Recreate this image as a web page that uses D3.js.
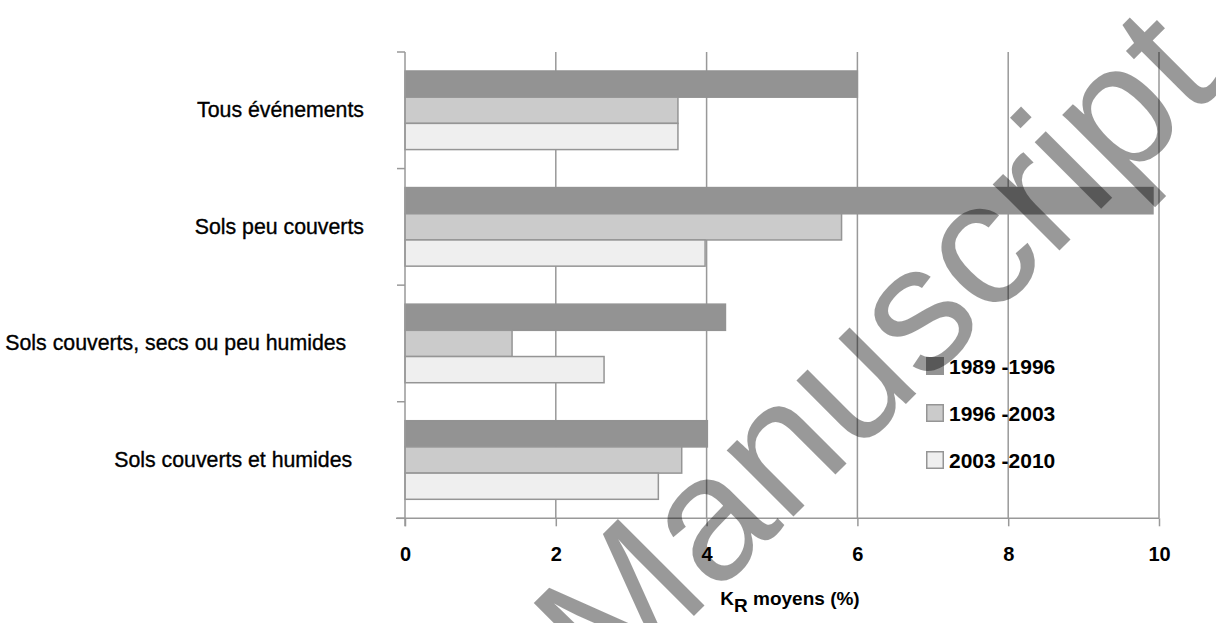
<!DOCTYPE html>
<html>
<head>
<meta charset="utf-8">
<script src="https://cdn.jsdelivr.net/npm/d3@7"></script>
<style>
  body { margin: 0; background: #fff; }
  svg text { font-family: "Liberation Sans", Arial, sans-serif; fill: #000; white-space: pre; }
</style>
</head>
<body>
<svg id="chart" width="1216" height="623"></svg>
<script>
// ---- data ----
const categories = [
  "Tous événements",
  "Sols peu couverts",
  "Sols couverts, secs ou peu humides   ",
  "Sols couverts et humides  "
];
const seriesNames = ["1989 -1996", "1996 -2003", "2003 -2010"];
const values1989_1996 = [6.0, 9.92, 4.25, 4.01];
const values1996_2003 = [3.62, 5.79, 1.42, 3.67];
const values2003_2010 = [3.62, 3.98, 2.64, 3.36];
const xTickValues = [0, 2, 4, 6, 8, 10];
const xTitleMain = "K";
const xTitleSub = "R";
const xTitleRest = " moyens (%)";
const watermarkText = "Manuscript";

// ---- styles ----
const fills = ["#939393", "#cbcbcb", "#efefef"];
const strokes = ["#939393", "#959595", "#959595"];
const gridColor = "#999999";

const seriesValues = [values1989_1996, values1996_2003, values2003_2010];
const rows = categories.map((c, i) => ({
  cat: c,
  vals: seriesNames.map((s, j) => ({ series: s, idx: j, value: seriesValues[j][i] }))
}));

const svg = d3.select("#chart");
const pLeft = 405, pRight = 1159, pTop = 52, pBottom = 518.3;

const x = d3.scaleLinear().domain([0, 10]).range([pLeft, pRight]);
const y = d3.scaleBand().domain(categories).range([pTop, pBottom]).padding(0);
const ys = d3.scaleBand().domain(seriesNames).range([0, y.bandwidth()])
  .paddingInner(0).paddingOuter(0.725);

// gridlines
svg.append("g").selectAll("line")
  .data(xTickValues.filter(d => d > 0))
  .join("line")
  .attr("x1", d => x(d)).attr("x2", d => x(d))
  .attr("y1", pTop).attr("y2", pBottom)
  .attr("stroke", gridColor).attr("stroke-width", 1.5);

// bars
const groups = svg.append("g").selectAll("g")
  .data(rows).join("g")
  .attr("transform", d => `translate(0,${y(d.cat)})`);
groups.selectAll("rect")
  .data(d => d.vals).join("rect")
  .attr("x", x(0))
  .attr("y", d => ys(d.series))
  .attr("width", d => x(d.value) - x(0))
  .attr("height", ys.bandwidth())
  .attr("fill", d => fills[d.idx])
  .attr("stroke", d => strokes[d.idx])
  .attr("stroke-width", 1.5);

// bottom axis
const xAxis = d3.axisBottom(x).tickValues(xTickValues).tickSize(8).tickPadding(21)
  .tickFormat(d3.format("d"));
const gx = svg.append("g").attr("transform", `translate(0,${pBottom})`).call(xAxis);
gx.select(".domain").remove();
gx.append("line").attr("x1", pLeft - 9).attr("x2", pRight).attr("y1", 0).attr("y2", 0)
  .attr("stroke", gridColor).attr("stroke-width", 1.5);
gx.selectAll(".tick line").attr("stroke", gridColor).attr("stroke-width", 1.5);
gx.selectAll(".tick text").attr("font-size", 20).attr("font-weight", "bold")
  .style("font-family", "'Liberation Sans', Arial, sans-serif").attr("fill", "#000");

// left axis
const yAxis = d3.axisLeft(y).tickSize(0).tickPadding(41);
const gy = svg.append("g").attr("transform", `translate(${pLeft},0)`).call(yAxis);
gy.select(".domain").remove();
gy.selectAll(".tick text").attr("font-size", 21.3)
  .style("font-family", "'Liberation Sans', Arial, sans-serif").attr("fill", "#000")
  .attr("stroke", "#000").attr("stroke-width", 0.35);
gy.append("line").attr("x1", 0).attr("x2", 0).attr("y1", pTop).attr("y2", pBottom + 8)
  .attr("stroke", gridColor).attr("stroke-width", 1.5);
const boundaries = categories.map(c => y(c)).concat([y(categories[categories.length - 1]) + y.bandwidth()]);
gy.selectAll(".bnd").data(boundaries).join("line").attr("class", "bnd")
  .attr("x1", -8).attr("x2", 0).attr("y1", d => d).attr("y2", d => d)
  .attr("stroke", gridColor).attr("stroke-width", 1.5);

// axis title
const title = svg.append("text").attr("x", (pLeft + pRight) / 2 + 8).attr("y", 605)
  .attr("text-anchor", "middle").attr("font-size", 19).attr("font-weight", "bold");
title.append("tspan").text(xTitleMain);
title.append("tspan").attr("dy", 7).text(xTitleSub);
title.append("tspan").attr("dy", -7).text(xTitleRest);

// legend
const legend = svg.append("g").attr("transform", "translate(926,357)");
const li = legend.selectAll("g").data(seriesNames).join("g")
  .attr("transform", (d, i) => `translate(0,${i * 47})`);
li.append("rect").attr("x", 0.75).attr("y", 0.75).attr("width", 16.5).attr("height", 16.5)
  .attr("fill", (d, i) => fills[i]).attr("stroke", (d, i) => strokes[i]).attr("stroke-width", 1.5);
li.append("text").attr("x", 23).attr("y", 9).attr("dy", "0.36em")
  .attr("font-size", 21).attr("font-weight", "bold").text(d => d);

// watermark
svg.append("text")
  .attr("transform", "translate(610,700) rotate(-45)")
  .attr("font-size", 178)
  .attr("fill", "#000").attr("fill-opacity", 0.4)
  .style("font-family", "'Liberation Sans', Arial, sans-serif")
  .text(watermarkText);
</script>
</body>
</html>
